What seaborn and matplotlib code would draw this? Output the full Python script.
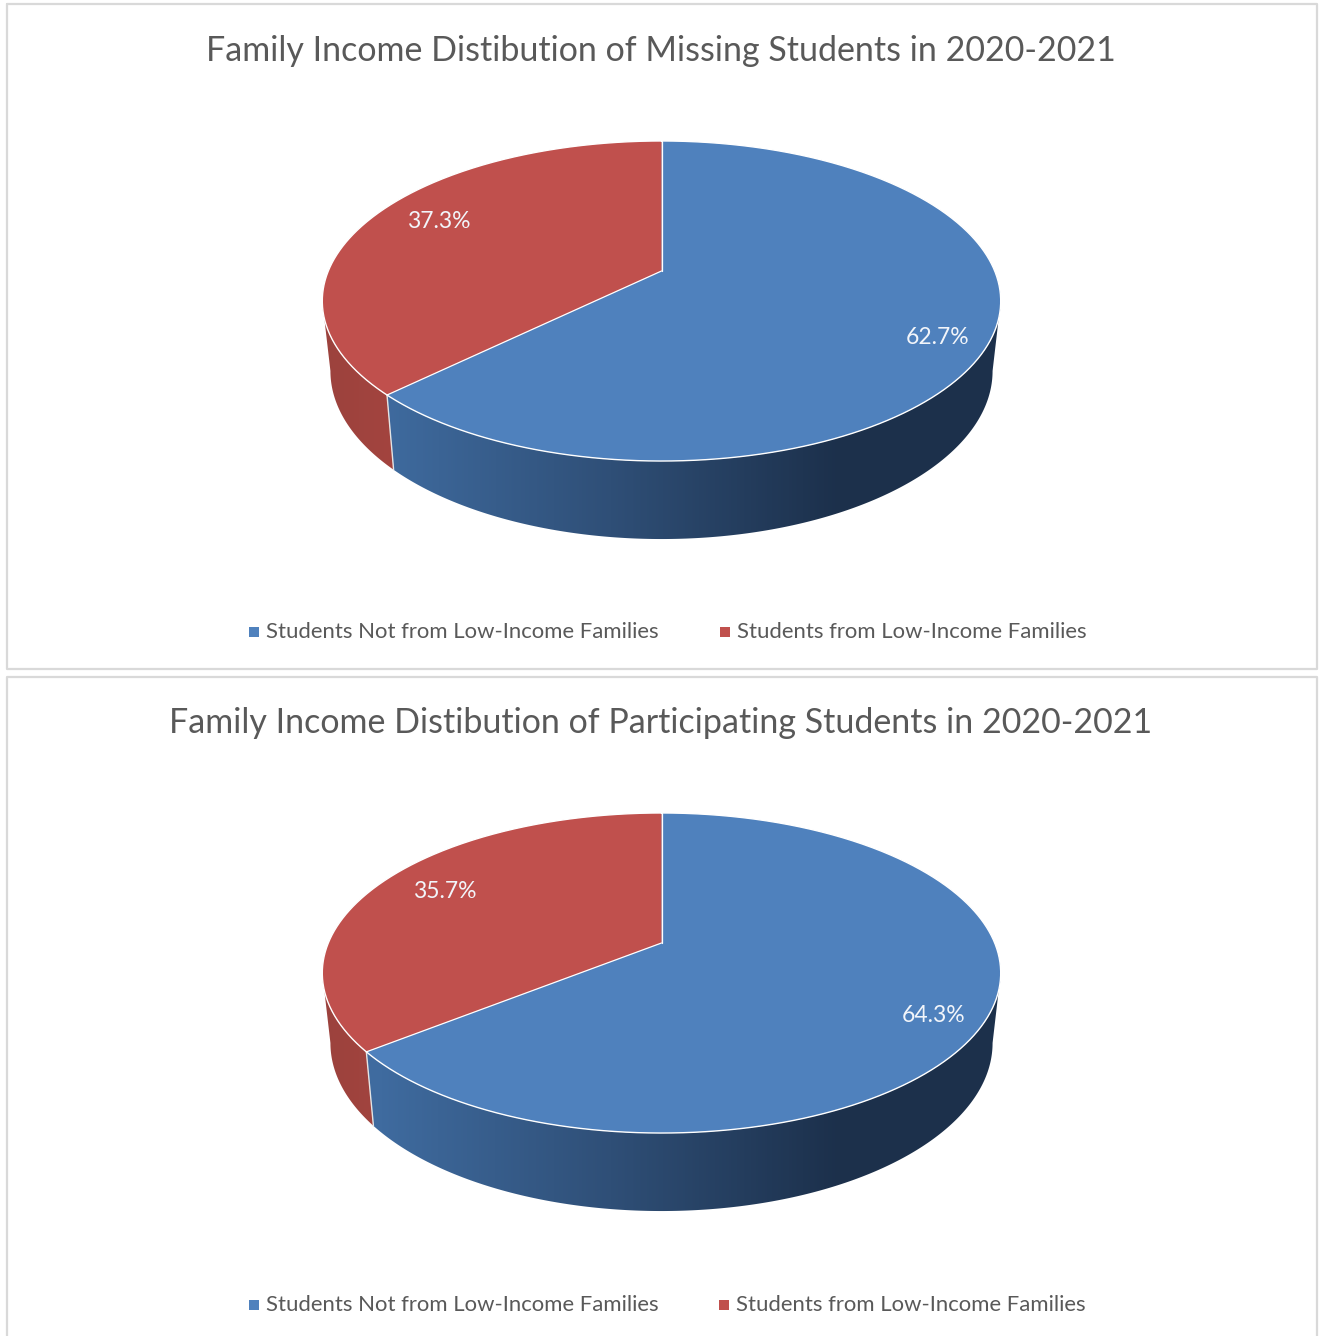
import numpy as np
import seaborn as sns
import matplotlib
matplotlib.use("Agg")
import matplotlib.pyplot as plt
from matplotlib.colors import to_rgb
from matplotlib.patches import Polygon

sns.set_theme(style="white")
plt.rcParams['font.family'] = ['Lato', 'DejaVu Sans']

categories = ["Students Not from Low-Income Families", "Students from Low-Income Families"]
titles = ["Family Income Distibution of Missing Students in 2020-2021",
          "Family Income Distibution of Participating Students in 2020-2021"]
missing_values = [62.7, 37.3]
participating_values = [64.3, 35.7]
value_labels = [["62.7%", "37.3%"], ["64.3%", "35.7%"]]

W, H = 1320, 1336
TOP_COLORS = ["#4F81BD", "#C0504D"]
BLUE_RAMP = sns.blend_palette(["#3F6B9F", "#2F4F77", "#1C304B"], 460)
RED_RAMP = sns.blend_palette(["#9C423D", "#A3443F"], 70)
GREY = "#595959"
BORDER = "#D9D9D9"

CX = 661.5
A, B, K = 333.2, 154.4, 0.1875
TITLE_FS = 24.5
LEG_FS = 15.95
LABEL_FS = 16.5
THETA_EDGE = np.arccos(-K)


def rim(theta, apex):
    x, y = np.sin(theta), np.cos(theta)
    d = 1 + K * y
    return CX + A * x / d, apex - B * y / d


def lower(theta, apex):
    x, y = np.sin(theta), np.cos(theta)
    d = 1 + K * y
    return CX + 0.976 * A * x / d, apex + 68.5 + 1.05 * B * (-y) / d


def gradient_wall(ax, start, end, ramp, x0, x1, apex):
    th = np.linspace(start, end, 400)
    xa, ya = rim(th, apex)
    xb, yb = lower(th, apex)
    pts = np.column_stack([np.r_[xa, xb[::-1]], np.r_[ya, yb[::-1]]])
    img = np.array([to_rgb(c) for c in ramp])[None, :, :]
    top, bottom = pts[:, 1].min() - 2, pts[:, 1].max() + 2
    left, right = pts[:, 0].min() - 2, pts[:, 0].max() + 2
    xs = np.arange(left, right, 1.0)
    idx = np.clip(((xs - x0) / (x1 - x0) * (len(ramp) - 1)).astype(int), 0, len(ramp) - 1)
    im = ax.imshow(img[:, idx, :], extent=(left, xs[-1] + 1, bottom, top),
                   aspect="auto", interpolation="nearest", zorder=1)
    patch = Polygon(pts, closed=True, transform=ax.transData, fc="none", ec="none")
    ax.add_patch(patch)
    im.set_clip_path(patch)


def draw_panel(ax, values, labels, title, apex, title_y, label_xy, legend_y, legend_xs):
    total = sum(values)
    split = 2 * np.pi * values[0] / total

    gradient_wall(ax, THETA_EDGE, split, BLUE_RAMP, 380, 840, apex)
    gradient_wall(ax, split, 2 * np.pi - THETA_EDGE, RED_RAMP, 323, 393, apex)

    for i, (start, end) in enumerate([(0, split), (split, 2 * np.pi)]):
        th = np.linspace(start, end, 500)
        x, y = rim(th, apex)
        ax.fill(np.r_[CX, x], np.r_[apex, y], color=TOP_COLORS[i], lw=0, zorder=2)

    xs, ys = rim(np.array([split]), apex)
    xl, yl = lower(np.array([split]), apex)
    ax.plot([xs[0], xl[0]], [ys[0], yl[0]], color="#E4E4E4", lw=1.0, zorder=3)
    th = np.linspace(0, 2 * np.pi, 900)
    x, y = rim(th, apex)
    ax.plot(x, y, color="white", lw=1.0, zorder=3)
    ax.plot([CX, CX], [apex, rim(np.array([0.0]), apex)[1][0]], color="white", lw=0.9, zorder=3)
    ax.plot([CX, xs[0]], [apex, ys[0]], color="white", lw=0.9, zorder=3)

    for txt, (lx, ly) in zip(labels, label_xy):
        ax.text(lx, ly, txt, color="#F2F5FA", fontsize=LABEL_FS, ha="center", va="center", zorder=4)

    ax.text(661, title_y, title, color=GREY, fontsize=TITLE_FS, ha="center", va="center")

    for i, cat in enumerate(categories):
        ax.scatter([legend_xs[i] - 12.5], [legend_y], marker="s", s=42, color=TOP_COLORS[i], lw=0)
        ax.text(legend_xs[i], legend_y, cat, color=GREY, fontsize=LEG_FS, ha="left", va="center")


fig = plt.figure(figsize=(W / 100, H / 100), dpi=100, facecolor="white")
ax = fig.add_axes([0, 0, 1, 1])

ax.plot([7, 1317, 1317, 7, 7], [4, 4, 669, 669, 4], color=BORDER, lw=1.6)
ax.plot([7, 7, 1317, 1317], [1340, 677, 677, 1340], color=BORDER, lw=1.6)

draw_panel(ax, missing_values, value_labels[0], titles[0], 271, 51,
           [(938, 338), (439, 222)], 632, [266, 737])
draw_panel(ax, participating_values, value_labels[1], titles[1], 943, 723,
           [(934, 1015), (445, 891)], 1305, [266, 736])

ax.set_xlim(0, W)
ax.set_ylim(H, 0)
ax.set_aspect("auto")
ax.axis("off")

fig.savefig("out.png", dpi=100, facecolor="white")
